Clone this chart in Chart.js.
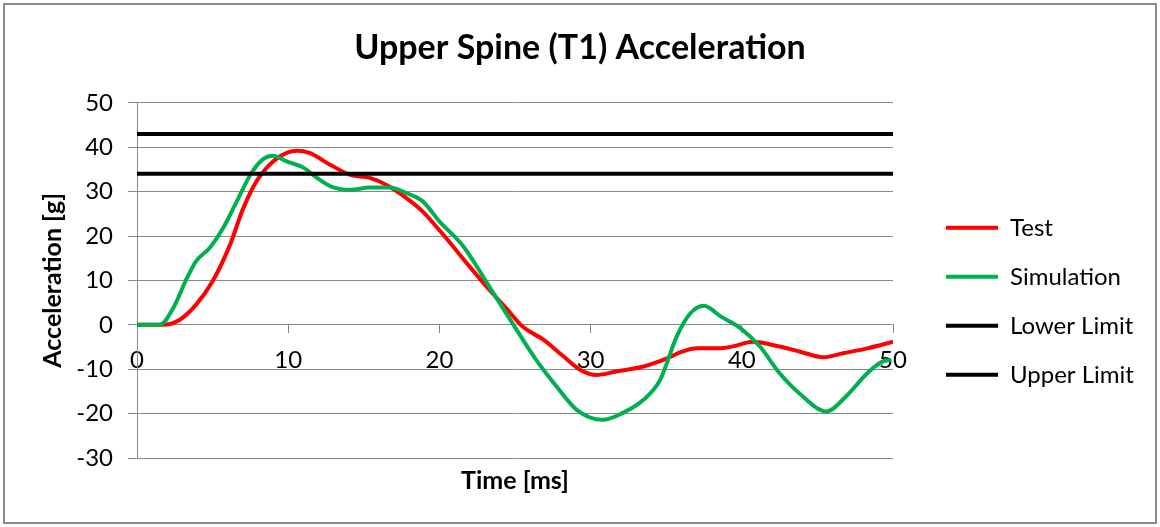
<!DOCTYPE html>
<html><head><meta charset="utf-8">
<script src="https://cdn.jsdelivr.net/npm/chart.js@4.4.1/dist/chart.umd.min.js"></script>
<style>html,body{margin:0;padding:0;background:#fff;} #wrap{width:1160px;height:527px;position:relative;}</style>
</head><body><div id="wrap"><canvas id="c"></canvas></div>
<script>
const chartTitle = 'Upper Spine (T1) Acceleration';
const xAxisTitle = 'Time [ms]';
const yAxisTitle = 'Acceleration [g]';
const seriesNames = ['Test', 'Simulation', 'Lower Limit', 'Upper Limit'];

const testTime = [0, 1.7, 2.8, 3.9, 5.0, 6.15, 7.0, 7.9, 9.0, 9.9, 10.6, 11.4, 12.8, 14.1, 15.4, 16.5, 17.8, 18.9, 20.0, 20.7, 22.0, 23.3, 24.5, 25.5, 26.9, 28.2, 29.3, 30.4, 31.7, 33.5, 34.8, 36.1, 37.0, 38.5, 39.5, 40.7, 42.5, 43.8, 45.4, 46.7, 48.3, 50];
const testValues = [0, 0, 1.1, 4.5, 9.8, 18, 26, 32.3, 36.8, 38.7, 39.2, 38.7, 36, 33.8, 33.1, 31.5, 28.6, 25.5, 21.3, 18.5, 13.1, 7.9, 3.4, -0.4, -3.4, -7.1, -10.1, -11.3, -10.5, -9.4, -7.9, -6.0, -5.3, -5.3, -4.8, -3.8, -4.9, -6.0, -7.3, -6.4, -5.3, -3.8];

const simTime = [0, 1.5, 2.4, 3.3, 3.9, 4.8, 5.7, 6.6, 7.5, 8.3, 9.0, 9.9, 11.0, 11.9, 12.8, 14.1, 15.4, 16.7, 17.8, 18.9, 20.0, 21.6, 23.3, 25.1, 26.4, 27.75, 29.1, 30.8, 32.1, 33.5, 34.6, 35.7, 36.6, 37.5, 38.6, 39.9, 41.2, 42.5, 43.8, 45.6, 46.9, 48.3, 49.3, 49.9];
const simValues = [0, 0, 3.8, 10.5, 14.3, 17.3, 21.8, 27.8, 33.8, 37.2, 38.1, 36.8, 35.4, 33.1, 31.2, 30.4, 30.9, 30.9, 29.7, 27.8, 23.3, 17.6, 8.6, -1.1, -7.9, -13.9, -19.2, -21.4, -19.9, -16.9, -12.4, -2.6, 2.6, 4.3, 1.9, -0.75, -4.9, -10.9, -15.4, -19.5, -16.1, -10.9, -8.3, -7.9];

const limitTime = [0, 50];
const lowerLimitValues = [34, 34];
const upperLimitValues = [43, 43];

const xMin = 0, xMax = 50, xStep = 10;
const yMin = -30, yMax = 50, yStep = 10;

const toPoints = (xs, ys) => xs.map((x, i) => ({x: x, y: ys[i]}));

Chart.defaults.font.family = 'Lato, "Open Sans", sans-serif';
Chart.defaults.color = '#000';

const gridGray = '#8a8a8a';

const framePlugin = {
  id: 'frame',
  beforeUpdate(chart) {
    const lg = chart.legend;
    if (lg && !lg._fixedFit) {
      const orig = lg.fit.bind(lg);
      lg.fit = function () { orig(); this.width = 239; };
      lg._fixedFit = true;
    }
  },
  afterDraw(chart) {
    const c = chart.ctx;
    c.save();
    c.strokeStyle = '#8c8c8c';
    c.lineWidth = 2;
    c.strokeRect(4, 4, chart.width - 8, chart.height - 8);
    c.restore();
  }
};

const lineDs = (label, xs, ys, color, order) => ({
  label: label,
  data: toPoints(xs, ys),
  borderColor: color,
  backgroundColor: color,
  borderWidth: 4,
  pointRadius: 0,
  cubicInterpolationMode: 'monotone',
  fill: false,
  order: order
});

new Chart(document.getElementById('c'), {
  type: 'line',
  data: {
    datasets: [
      lineDs(seriesNames[0], testTime, testValues, '#ff0000', 4),
      lineDs(seriesNames[1], simTime, simValues, '#00b050', 3),
      lineDs(seriesNames[2], limitTime, lowerLimitValues, '#000000', 2),
      lineDs(seriesNames[3], limitTime, upperLimitValues, '#000000', 1)
    ]
  },
  options: {
    responsive: true,
    maintainAspectRatio: false,
    animation: false,
    devicePixelRatio: 1,
    layout: { padding: { left: 0, right: 0, top: 0, bottom: 0 } },
    plugins: {
      tooltip: { enabled: false },
      title: {
        display: true,
        text: chartTitle,
        font: { size: 34, weight: 'bold' },
        color: '#000',
        padding: { top: 28, bottom: 34 }
      },
      subtitle: {
        display: true,
        text: xAxisTitle,
        position: 'bottom',
        fullSize: false,
        font: { size: 25, weight: 'bold' },
        color: '#000',
        padding: { top: 8, bottom: 31 }
      },
      legend: {
        position: 'right',
        align: 'start',
        fullSize: false,
        title: { display: true, text: '', font: { size: 10 }, padding: { top: 76, bottom: 0 } },
        labels: {
          usePointStyle: true,
          pointStyle: 'line',
          pointStyleWidth: 52,
          padding: 25,
          font: { size: 24 },
          color: '#000',
          sort: (a, b) => a.datasetIndex - b.datasetIndex,
          generateLabels(chart) {
            return chart.data.datasets.map((ds, i) => ({
              text: ds.label,
              datasetIndex: i,
              strokeStyle: ds.borderColor,
              fillStyle: ds.borderColor,
              lineWidth: 4,
              pointStyle: 'line',
              fontColor: '#000',
              hidden: false
            }));
          }
        }
      }
    },
    scales: {
      x: {
        type: 'linear',
        min: xMin, max: xMax,
        position: { y: 0 },
        grid: { drawOnChartArea: false, drawTicks: true, tickLength: 8, color: gridGray },
        border: { display: true, color: gridGray, width: 1 },
        ticks: { stepSize: xStep, padding: 13, font: { size: 24 }, color: '#000', maxRotation: 0 }
      },
      y: {
        type: 'linear',
        position: 'left',
        min: yMin, max: yMax,
        grid: { color: gridGray, tickLength: 9, lineWidth: 1 },
        border: { display: true, color: gridGray, width: 1 },
        ticks: { stepSize: yStep, padding: 15, font: { size: 24 }, color: '#000' },
        title: { display: true, text: yAxisTitle, font: { size: 25, weight: 'bold' }, color: '#000', padding: { top: 38, bottom: 0 } },
        afterFit(s) { s.width = 137; }
      },
      ySpacer: {
        type: 'linear',
        position: 'right',
        min: yMin, max: yMax,
        display: true,
        grid: { display: false, drawTicks: false },
        border: { display: false },
        ticks: { display: false },
        afterFit(s) { s.width = 28; }
      }
    }
  },
  plugins: [framePlugin]
});
</script>
</body></html>
